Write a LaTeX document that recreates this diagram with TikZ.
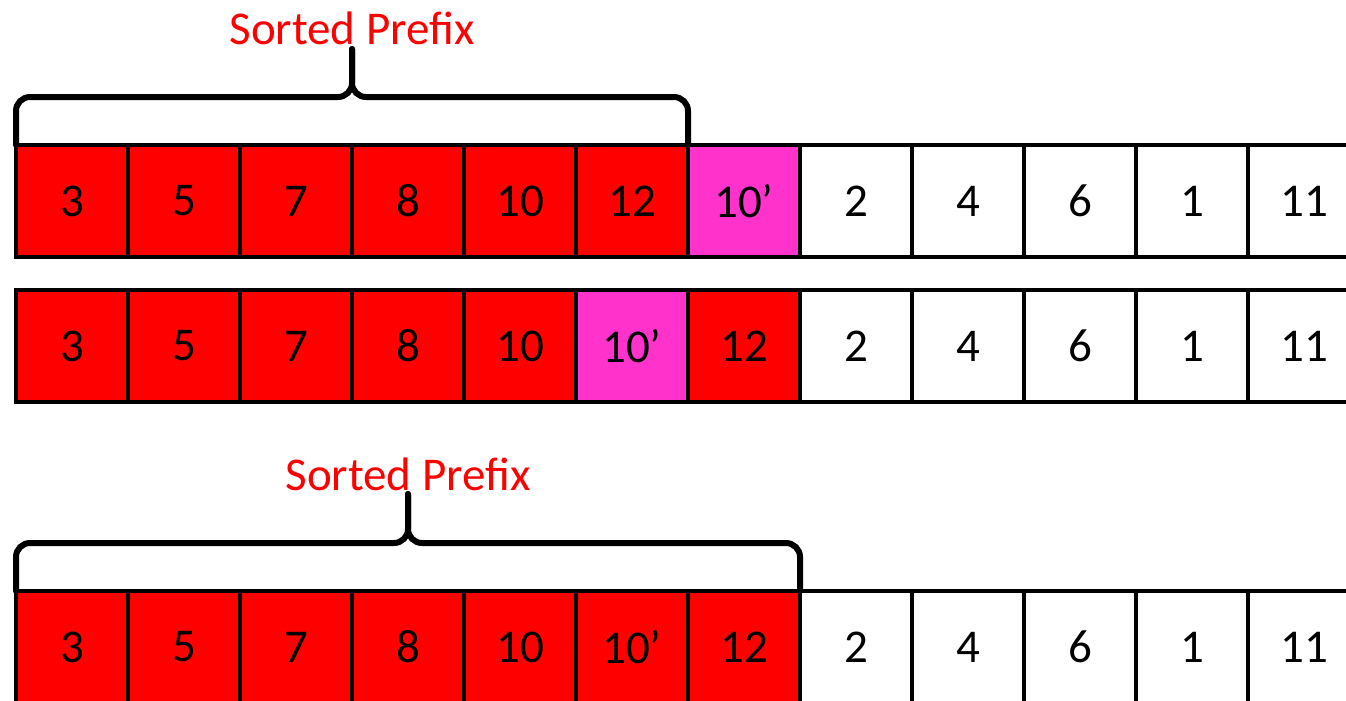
\documentclass[tikz,border=0pt]{standalone}
\usepackage{fontspec}
\setmainfont{Carlito}
\usetikzlibrary{positioning,calc}
\definecolor{movedpink}{RGB}{255,51,204}

\begin{document}
\begin{tikzpicture}[x=1pt,y=-1pt,
   cell/.style={draw,line width=4.6pt,minimum size=112pt,inner sep=0pt,outer sep=0pt,
     font=\fontsize{47}{56}\selectfont},
   brace/.style={draw,line width=6pt,rounded corners=14pt,line cap=round},
   label/.style={text=red,font=\fontsize{47}{56}\selectfont,anchor=base}]
  \useasboundingbox (0,0) rectangle (1346,701);
  % the three rows of the array
  \foreach \v/\c [count=\i] in {3/red,5/red,7/red,8/red,10/red,12/red,10’/movedpink,
      2/white,4/white,6/white,1/white,11/white}
    \node[cell,fill=\c] (a\i) at ({112*\i-40},201) {\v};
  \foreach \v/\c [count=\i] in {3/red,5/red,7/red,8/red,10/red,10’/movedpink,12/red,
      2/white,4/white,6/white,1/white,11/white}
    \node[cell,fill=\c] (b\i) at ({112*\i-40},346) {\v};
  \foreach \v/\c [count=\i] in {3/red,5/red,7/red,8/red,10/red,10’/red,12/red,
      2/white,4/white,6/white,1/white,11/white}
    \node[cell,fill=\c] (c\i) at ({112*\i-40},647) {\v};
  % braces over the sorted prefix
  \coordinate (tipa) at ($(a1.north west)!0.5!(a6.north east)+(0,-96)$);
  \coordinate (tipc) at ($(c1.north west)!0.5!(c7.north east)+(0,-97)$);
  \draw[brace] (a1.north west) -- ++(0,-48) -- (tipa |- 0,97) -- (tipa);
  \draw[brace] (a6.north east) -- ++(0,-48) -- (tipa |- 0,97) -- (tipa);
  \draw[brace] (c1.north west) -- ++(0,-48) -- (tipc |- 0,543) -- (tipc);
  \draw[brace] (c7.north east) -- ++(0,-48) -- (tipc |- 0,543) -- (tipc);
  \node[label] (pa) at ($(tipa)+(0,-4)$) {Sorted Prefix};
  \node[label] (pc) at ($(tipc)+(0,-4)$) {Sorted Prefix};
\end{tikzpicture}
\end{document}
